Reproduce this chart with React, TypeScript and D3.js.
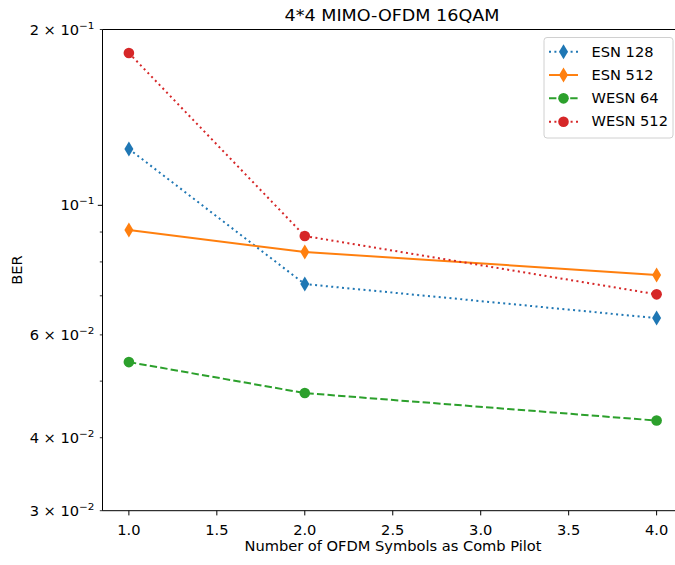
import React from "react";
import * as d3 from "d3";

const xValues = [1, 2, 4];
const seriesNames = ["ESN 128", "ESN 512", "WESN 64", "WESN 512"];
const esn128 = [0.1249, 0.0733, 0.0641];
const esn512 = [0.0907, 0.0832, 0.0760];
const wesn64 = [0.0539, 0.0477, 0.0428];
const wesn512 = [0.1823, 0.0886, 0.0704];
const xTicks = [1.0, 1.5, 2.0, 2.5, 3.0, 3.5, 4.0];
const yMinorTicks = [0.03, 0.04, 0.05, 0.06, 0.07, 0.08, 0.09, 0.2];
const yMajorTicks = [0.1];
const yLabels: [number, string, string][] = [
  [0.2, "2 × 10", "−1"],
  [0.1, "10", "−1"],
  [0.06, "6 × 10", "−2"],
  [0.04, "4 × 10", "−2"],
  [0.03, "3 × 10", "−2"],
];

const W = 675, H = 565;
const L = 102.5, R = 683, T = 29.5, B = 510.7;
const font = "DejaVu Sans, sans-serif";
const SX = 1.1;

const styles = [
  { color: "#1f77b4", dash: "2,3.4", marker: "d", values: esn128 },
  { color: "#ff7f0e", dash: null, marker: "d", values: esn512 },
  { color: "#2ca02c", dash: "7.4,3.2", marker: "o", values: wesn64 },
  { color: "#d62728", dash: "2,3.4", marker: "o", values: wesn512 },
];

function Marker({ type, x, y, color }: { type: string; x: number; y: number; color: string }) {
  if (type === "o") return <circle cx={x} cy={y} r={5.3} fill={color} />;
  const h = 7.5, w = 4.5;
  return <path d={`M${x},${y - h}L${x + w},${y}L${x},${y + h}L${x - w},${y}Z`} fill={color} />;
}

function T_({ x, y, anchor, size, children, rotate }: any) {
  const tr = `translate(${x},${y})${rotate ? ` rotate(${rotate})` : ""} scale(${SX},1)`;
  return (
    <text transform={tr} textAnchor={anchor || "start"} fontSize={size} fill="#000">{children}</text>
  );
}

export default function App() {
  const x = d3.scaleLinear().domain([0.85, 4.15]).range([L, R]);
  const y = d3.scaleLog().domain([0.03, 0.2]).range([B, T]);
  const line = d3.line<number>().x((_, i) => x(xValues[i])).y((d) => y(d));

  return (
    <svg width={W} height={H} style={{ position: "absolute", left: 0, top: 0, background: "#fff" }} fontFamily={font}>
      <rect width={W} height={H} fill="#fff" />
      {styles.map((s, i) => (
        <g key={i}>
          <path d={line(s.values) || ""} fill="none" stroke={s.color} strokeWidth={2}
            strokeDasharray={s.dash || undefined} />
          {s.values.map((v, j) => (
            <Marker key={j} type={s.marker} x={x(xValues[j])} y={y(v)} color={s.color} />
          ))}
        </g>
      ))}
      {/* spines */}
      <line x1={L} y1={T} x2={L} y2={B} stroke="#000" strokeWidth={1} />
      <line x1={L} y1={B} x2={R} y2={B} stroke="#000" strokeWidth={1} />
      <line x1={L} y1={T} x2={R} y2={T} stroke="#000" strokeWidth={1} />
      <line x1={R} y1={T} x2={R} y2={B} stroke="#000" strokeWidth={1} />
      {/* x ticks */}
      {xTicks.map((t) => (
        <g key={t}>
          <line x1={x(t)} x2={x(t)} y1={B} y2={B + 4.7} stroke="#000" strokeWidth={1} />
          <T_ x={x(t)} y={535} anchor="middle" size={13.3}>{t.toFixed(1)}</T_>
        </g>
      ))}
      {/* y ticks */}
      {yMinorTicks.map((t) => (
        <line key={t} x1={L - 2.7} x2={L} y1={y(t)} y2={y(t)} stroke="#000" strokeWidth={0.8} />
      ))}
      {yMajorTicks.map((t) => (
        <line key={t} x1={L - 4.7} x2={L} y1={y(t)} y2={y(t)} stroke="#000" strokeWidth={1} />
      ))}
      {yLabels.map(([v, base, exp]) => (
        <T_ key={v} x={94.5} y={y(v) + 5} anchor="end" size={13.3}>
          {base}
          <tspan fontSize={9.5} dy={-6}>{exp}</tspan>
        </T_>
      ))}
      {/* labels */}
      <T_ x={392} y={20.5} anchor="middle" size={16}>4*4 MIMO-OFDM 16QAM</T_>
      <T_ x={393} y={551} anchor="middle" size={13.3}>Number of OFDM Symbols as Comb Pilot</T_>
      <T_ x={22} y={(T + B) / 2} anchor="middle" size={13.3} rotate={-90}>BER</T_>
      {/* legend */}
      <rect x={544} y={37.5} width={129} height={100.5} rx={3} fill="#fff" fillOpacity={0.8} stroke="#d0d0d0" strokeWidth={1} />
      {styles.map((s, i) => {
        const cy = 51.7 + i * 23.33;
        return (
          <g key={i}>
            <line x1={549} x2={578} y1={cy} y2={cy} stroke={s.color} strokeWidth={2}
              strokeDasharray={s.dash || undefined} />
            <Marker type={s.marker} x={563.5} y={cy} color={s.color} />
            <T_ x={591.5} y={cy + 4.8} size={13.3}>{seriesNames[i]}</T_>
          </g>
        );
      })}
    </svg>
  );
}
